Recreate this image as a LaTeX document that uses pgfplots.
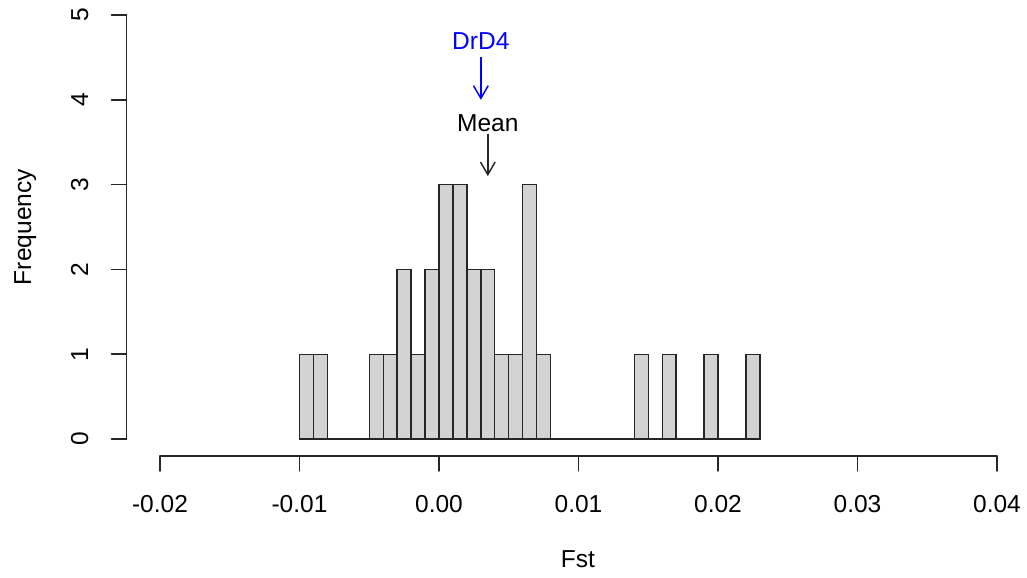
\documentclass[border=0pt]{standalone}
\usepackage{fontspec}
\setmainfont{Liberation Sans}
\usepackage{pgfplots}
\pgfplotsset{compat=1.18}
\usetikzlibrary{arrows.meta}
\definecolor{barfill}{HTML}{D3D3D3}
\begin{document}
\fontsize{18.4}{22}\selectfont
\begin{tikzpicture}
\begin{axis}[
  scale only axis, width=675.4pt, height=342pt,
  xmin=-0.0224, xmax=0.04215, ymin=-0.2, ymax=5.177,
  scaled x ticks=false, scaled y ticks=false,
  axis x line*=bottom, axis y line*=left,
  axis line style={line width=1.1pt, black!85, line cap=round},
  x axis line style={shorten <=25.1pt, shorten >=22.7pt},
  y axis line style={shorten <=12.5pt, shorten >=11.25pt},
  tick align=outside, major tick length=11.25pt,
  tick style={line width=1.1pt, black!85, line cap=round},
  xtick={-0.02,-0.01,0,0.01,0.02,0.03,0.04},
  xticklabels={-0.02,-0.01,0.00,0.01,0.02,0.03,0.04},
  ytick={0,1,2,3,4,5},
  yticklabels={0,1,2,3,4,5},
  xticklabel style={anchor=base, yshift=-31pt},
  yticklabel style={anchor=base, xshift=-17.6pt, rotate=90},
  every axis x label/.style={at={(axis description cs:0.5014,0)}, anchor=base, yshift=-84pt},
  every axis y label/.style={at={(axis description cs:0,0.502)}, anchor=base, xshift=-71.6pt, rotate=90},
  xlabel={Fst}, ylabel={Frequency},
  clip=false,
]
\coordinate (bl) at (rel axis cs:0,0);
\coordinate (tr) at (rel axis cs:1,1);
\addplot[ybar interval, fill=barfill, draw=black!85, line width=1.0pt] coordinates {
(-0.010,1) (-0.009,1) (-0.008,0) (-0.007,0) (-0.006,0) (-0.005,1) (-0.004,1)
(-0.003,2) (-0.002,1) (-0.001,2) (0.000,3) (0.001,3) (0.002,2) (0.003,2)
(0.004,1) (0.005,1) (0.006,3) (0.007,1) (0.008,0) (0.009,0) (0.010,0)
(0.011,0) (0.012,0) (0.013,0) (0.014,1) (0.015,0) (0.016,1) (0.017,0)
(0.018,0) (0.019,1) (0.020,0) (0.021,0) (0.022,1) (0.023,0)
};
\addplot[blue, line width=1.1pt, -{Straight Barb[length=9.5pt,width=11pt]}] coordinates {(0.003,4.5) (0.003,4.0)};
\addplot[black!85, line width=1.1pt, -{Straight Barb[length=9.5pt,width=11pt]}] coordinates {(0.0035,3.6) (0.0035,3.1)};
\node[blue, anchor=base] at (axis cs:0.003,4.588) {DrD4};
\node[black, anchor=base] at (axis cs:0.0035,3.621) {Mean};
\end{axis}
\pgfresetboundingbox
\path (bl) ++(-94.9pt,-91.5pt) rectangle (tr);
\end{tikzpicture}
\end{document}
